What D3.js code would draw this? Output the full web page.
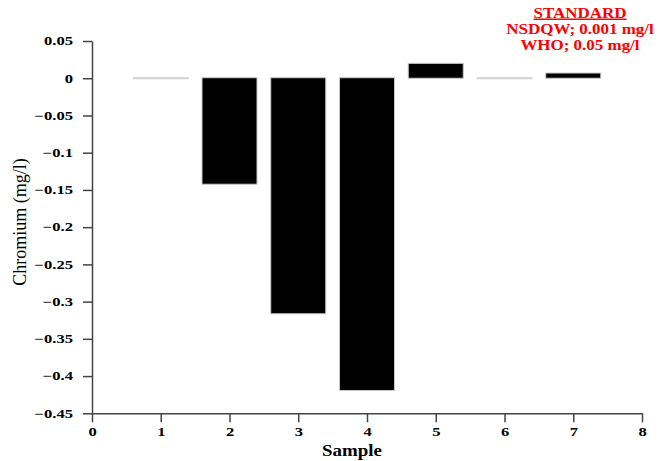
<!DOCTYPE html>
<html><head><meta charset="utf-8">
<script src="https://cdn.jsdelivr.net/npm/d3@7"></script>
<style>body{margin:0;background:#fff}svg{display:block}</style>
</head><body>
<svg id="c" width="659" height="461"></svg>
<script>
const samples = [1, 2, 3, 4, 5, 6, 7];
const chromium = [0, -0.143, -0.317, -0.42, 0.02, 0, 0.007];
const yTicks = [0.05, 0, -0.05, -0.1, -0.15, -0.2, -0.25, -0.3, -0.35, -0.4, -0.45];
const xTicks = [0, 1, 2, 3, 4, 5, 6, 7, 8];
const standardLines = ["STANDARD", "NSDQW; 0.001 mg/l", "WHO; 0.05 mg/l"];

const svg = d3.select("#c");
const x = d3.scaleLinear().domain([0, 8]).range([92, 642]);
const y = d3.scaleLinear().domain([-0.45, 0.05]).range([413.3, 41]);
const serif = "'Liberation Serif','Times New Roman',serif";

function stretch(sel, k) {
  sel.each(function () {
    const n = this.getComputedTextLength();
    d3.select(this).attr("textLength", n * k).attr("lengthAdjust", "spacingAndGlyphs");
  });
}

// bars (zero-valued bars still show their grey outline as a thin line)
svg.append("g").selectAll("rect").data(samples).join("rect")
  .attr("x", (d) => x(d - 0.4))
  .attr("width", (d) => x(d + 0.4) - x(d - 0.4))
  .attr("y", (d, i) => Math.min(y(chromium[i]), y(0) - 0.5))
  .attr("height", (d, i) => Math.max(Math.abs(y(chromium[i]) - y(0)), 1))
  .attr("fill", (d, i) => chromium[i] === 0 ? "#cfcfcf" : "#000")
  .attr("stroke", (d, i) => chromium[i] === 0 ? "#d4d4d4" : "#c8c8c8")
  .attr("stroke-width", 1);

// y axis
const ya = svg.append("g").attr("transform", `translate(${x(0)},0)`)
  .call(d3.axisLeft(y).tickValues(yTicks).tickSize(9).tickPadding(10)
    .tickFormat((d) => d3.format("")(+d.toFixed(2))).tickSizeOuter(0));
ya.select(".domain").attr("stroke", "#444").attr("stroke-width", 1.5);
ya.selectAll(".tick line").attr("stroke", "#444").attr("stroke-width", 1.5);
ya.selectAll(".tick text").attr("font-family", serif).attr("font-weight", "bold")
  .attr("font-size", 12).attr("fill", "#000").call(stretch, 1.38);

// x axis
const xa = svg.append("g").attr("transform", `translate(0,${y(-0.45)})`)
  .call(d3.axisBottom(x).tickValues(xTicks).tickSize(9).tickPadding(5).tickSizeOuter(0));
xa.select(".domain").attr("stroke", "#444").attr("stroke-width", 1.5);
xa.selectAll(".tick line").attr("stroke", "#444").attr("stroke-width", 1.5);
xa.selectAll(".tick text").attr("font-family", serif).attr("font-weight", "bold")
  .attr("font-size", 12).attr("fill", "#000").call(stretch, 1.38);

// axis titles
svg.append("text").attr("x", 352).attr("y", 456).attr("text-anchor", "middle")
  .attr("font-family", serif).attr("font-weight", "bold").attr("font-size", 16)
  .text("Sample").call(stretch, 1.18);

svg.append("text").attr("transform", "translate(26,222) rotate(-90)")
  .attr("text-anchor", "middle").attr("font-family", serif).attr("font-size", 18)
  .text("Chromium (mg/l)");

// standard note
const note = svg.append("g");
note.selectAll("text").data(standardLines).join("text")
  .attr("x", 580).attr("y", (d, i) => 17.5 + i * 16)
  .attr("text-anchor", "middle").attr("font-family", serif).attr("font-weight", "bold")
  .attr("font-size", 15).attr("fill", "#ff0000")
  .attr("text-decoration", (d, i) => i === 0 ? "underline" : null)
  .text((d) => d).call(stretch, 1.13);
</script>
</body></html>
